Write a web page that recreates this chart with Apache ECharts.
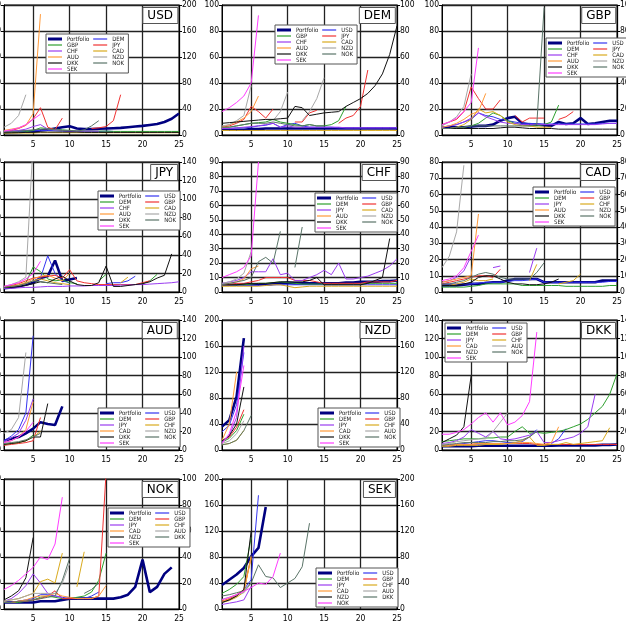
<!DOCTYPE html>
<html>
<head>
<meta charset="utf-8">
<title>Currency panels</title>
<script src="https://cdn.jsdelivr.net/npm/echarts@6/dist/echarts.min.js"></script>
<style>
html, body { margin: 0; padding: 0; background: #fff; }
#panels { width: 626px; height: 629px; }
</style>
</head>
<body>
<div id="panels"></div>
<script>
/* ------------------------------------------------------------------------------
 *
 *  # Small multiples - one panel per currency
 * ---------------------------------------------------------------------------- */

// Horizon categories (x axis)
var horizons = ['1','2','3','4','5','6','7','8','9','10','11','12','13',
    '14','15','16','17','18','19','20','21','22','23','24','25'];

// Panel titles and y axis ranges
var panelCodes = ['USD','DEM','GBP','JPY','CHF','CAD','AUD','NZD','DKK','NOK','SEK'];
var yMaxes = [200, 100, 100, 140, 90, 80, 140, 200, 140, 100, 200];
var ySteps = [40, 20, 20, 20, 10, 10, 20, 40, 20, 20, 40];

// Line colours (by position in each panel)
var lineColors = ['#000080', '#3535f0', '#2ea02e', '#f03232', '#9a3cf0', '#d9aa1e',
    '#ff9a3a', '#a8a8a8', '#111111', '#5a7468', '#ff3cff'];

// USD
var usdNames = ['Portfolio','DEM','GBP','JPY','CHF','CAD','AUD','NZD','DKK','NOK','SEK'];
var usdLines = [
    [4,4.5,5,5.5,6,7,8,10,12,13.5,10,9,9,9.5,10,10.5,11,12,13,14,15.5,17,20,25,33],
    [5,5,5.5,6,6.5,7,7,6.5,6,5.5,5,5,5,5.5,6,5.5],
    [3,3.5,4,5,7,11,10,9,8,7,6.5,6,6,6,6,5.5,5.5,5.5,5.5,5.5,5.5,5.5,5.5,5.5,5.5],
    [5,7,10,15,25,42,12,8,26,null,null,null,10,11,13,22,62],
    [5,6,7,9,13,16,9,8,7,6,6,6,6,6],
    [3,3,3,3,3,3.5,3.5,3.5,3.5,3.5,3.5,3.5,3.5,3.5,3.5,3.5,3.5,3.5,3.5,3.5,3.5,3.5,3.5,3.5,3.5],
    [7,9,11,15,33,186],
    [12,18,30,62],
    [3.5,3.5,3.5,4,4,4.5,4.5,4.5,4.5,4.5,4.5,4,4,4,4,4,4,4,4,4,4,4,4,4,4],
    [5,5,6,7,8,9,9,8,7,7,6,8,14,22],
    [6,8,11,16,24,32]
];

// DEM
var demNames = ['Portfolio','USD','GBP','JPY','CHF','CAD','AUD','NZD','DKK','NOK','SEK'];
var demLines = [
    [4,4,4,4,4.5,4.5,5,5,5,5,5,5,5,5,5,5,5,5,5,5,5,5,5,5,5],
    [5,5,5.5,5.5,6,7,7.5,9,6,8,9,7,6,6,6,6,5.5,5.5,5.5,5.5,5.5,5.5,5.5,5.5,5.5],
    [6,6,7,8,9,9.5,10,12,10,9,8,7,8,7,7,8,11,22],
    [6,7,9,12,22,18,13,20,null,null,10,10,17,19,null,null,9,13,15,22,50],
    [5,5,5.5,6,6.5,7,8,9,6,7,6,6,6,6,6,6,6,5.5,5.5,5.5,5.5,5.5,5.5,5.5,5.5],
    [3.5,3.5,3.5,3.5,3.5,3.5,3.5,3.5,3.5,3.5,3.5,3.5,3.5,3.5,3.5,3.5,3.5,3.5,3.5,3.5,3.5,3.5,3.5,3.5,3.5],
    [6,8,10,13,18,30],
    [7,8,11,15,38,null,null,11,18,33,null,11,18,28,44],
    [9,9.5,10,10.5,11,11.5,12,12,12.5,13,22,21,15,16,17,17.5,18,22,25,28,32,38,47,62,84],
    [6,6,7,8,9,9,9,10,9,8,7,7,8,7,7],
    [18,21,25,30,40,92]
];

// GBP
var gbpNames = ['Portfolio','USD','DEM','JPY','CHF','CAD','AUD','NZD','DKK','NOK','SEK'];
var gbpLines = [
    [6,6,6,6,6.5,7,7,8,11,13,14,9,8,8,7.5,7,10,8.5,9,13,8.5,9,10,11,11],
    [6,7,8,10,12,17,15,14,12,11,10,9,9,8.5,8.5,8.5,8.5,8.5,8.5,8.5,8.5,8.5,9,9,9],
    [5,5,5,6,7,9,13,17,15,11,9,8,7,7,8,10,23],
    [8,10,12,18,37,28,20,20,27,null,15,10,13,13,13,null,12,14,18],
    [6,7,8,10,13,17,14,12,10,9,9,8,8,8,8,8,8,8,8,8,8,8,8.5,9,9],
    [5,5,6,8,12,20,17,18,15,10,8,7,7,6,6,6],
    [6,7,9,12,16,18,32],
    [7,10,14,22,47],
    [5,5,5,5,5,5,5,5,5.5,6,6,5.5,5,5,5,5,4.5,4.5,4.5,4.5,4.5,4.5,4.5,4.5,4.5],
    [5,5,6,6,7,7,7,7,7,7,7,7,7,8,98],
    [8,10,13,18,25,67]
];

// JPY
var jpyNames = ['Portfolio','USD','DEM','GBP','CHF','CAD','AUD','NZD','DKK','NOK','SEK'];
var jpyLines = [
    [4,5,6,8,10,15,17,34,12,13.5,15],
    [5,6,7,9,12,15,39,20,12,10,null,null,null,null,9,10,10,12,17],
    [5,6,7,10,27,22,14,12,13,10,9,null,null,12,19,null,null,null,null,9,12,19],
    [6,7,9,12,15,16,17,18,15,24,12,10,9,8,8,8,8,8,8,10,12],
    [4,4,4.5,5,5,5.5,6,6,6,6.5,6.5,6.5,7,7,7,7,7.5,7.5,8,8,8.5,9,9.5,10,11],
    [5,6,7,9,12,14,12,10,9,8,null,null,null,null,null,null,10,16],
    [5,6,8,10,14,17,18,15,12,20],
    [6,8,11,16,162],
    [5,5,6,7,9,11,10,14,17,12,8,7,7,10,28,6,6,7,8,9,11,15,18,41],
    [5,6,7,9,12,11,10,9,8],
    [6,8,10,14,20,33]
];

// CHF
var chfNames = ['Portfolio','USD','DEM','GBP','JPY','CAD','AUD','NZD','DKK','NOK','SEK'];
var chfLines = [
    [5,5,5,5,5,5,5,5.5,6,6.5,6,6,6,6,6,6,6,6.5,6.5,7,7,7,7.5,7.5,8],
    [4.5,4.5,4.5,4.5,4.5,4.5,4.5,5,5,5,5,5,5,5,5,5,5,5,5,5,5,5,5,5,5],
    [5,5,5,5,5.5,6,6,6.5,7,6.5,6,5.5,5.5,5.5,5.5,5.5,5.5,5.5,5.5,5.5,6,6,6,6,6],
    [5,5,6,6,7,8,10,10,10,10,8,8,8,7,6,6,6,6,6,6,7,7,7,7,8],
    [6,7,8,10,14,14,14,23,12,13,8,8,10,12,15,12,20,9,9,10,11,13,15,18,23],
    [4,4,4,4,4,4,4.5,5,5,4,3,3.5,4,4,4,4,4,4,4,4,4,4,4,4,4],
    [5,6,7,9,16,18],
    [6,7,9,13,28],
    [5,5,5,5.5,6,6,6,6.5,7,7,7,7,8,10,5,5,5,5,5,5,6,8,10,37],
    [5,6,7,8,10,21,24,20,42,null,17,45],
    [10,12,14,17,25,90]
];

// CAD
var cadNames = ['Portfolio','USD','DEM','GBP','JPY','CHF','AUD','NZD','DKK','NOK','SEK'];
var cadLines = [
    [4,4,4,4.5,5,5,5.5,6,6,7,8,8,8,8,6,6,6,6,6,6,6,6,7,7,7],
    [5,5,5,5,5,5.5,6,6,6,6.5,7,7,7.5,8,6,6,6,6,6,6,6,6,6,6.5,6.5],
    [3,3,3,3,3.5,4,5,5,5,5,5,4,4,4,4,4,4,3.5,3.5,3.5,3.5,3.5,3.5,4,4],
    [5,6,7,8,9,10,10,9,14],
    [6,7,9,13,22,null,null,15,16,null,null,null,12,27],
    [4,4,5,6,8,7,7,8,null,null,null,null,7,17,null,null,5,6,7,11],
    [6,7,8,9,10,48],
    [15,22,37,78],
    [4,4,4,5,6,9,10,10,8,6,5,5,4.5,4.5,5,6,8],
    [5,5,6,7,9,11,12,11,9,8,8,8,8,12,18],
    [7,8,10,15,25,35]
];

// AUD
var audNames = ['Portfolio','USD','DEM','GBP','JPY','CHF','CAD','NZD','DKK','NOK','SEK'];
var audLines = [
    [10,12,14,18,23,30,28,27,47],
    [10,15,22,40,123],
    [6,7,8,10,16],
    [5,6,7,8,10,35],
    [9,13,18,32,55],
    [6,7,8,10,14,20],
    [8,10,14,22,52],
    [18,22,35,105],
    [6,7,8,10,14,14,50],
    [7,8,9,11,14,18],
    [8,10,14,20,30]
];

// NZD
var nzdNames = ['Portfolio','USD','DEM','GBP','JPY','CHF','CAD','AUD','DKK','NOK','SEK'];
var nzdLines = [
    [36,46,82,172],
    [28,38,70,150],
    [12,18,30,55],
    [14,20,35,62],
    [12,22,50,160],
    [8,10,15,30],
    [15,40,120],
    [10,14,25,45],
    [14,22,40,97],
    [8,10,15,30,53],
    [10,25,60,130]
];

// DKK
var dkkNames = ['Portfolio','USD','DEM','GBP','JPY','CHF','CAD','AUD','NZD','NOK','SEK'];
var dkkLines = [
    [4,4,4,4,4,4.5,4.5,4.5,4.5,4.5,4.5,4.5,4.5,4.5,4.5,4.5,5,5,5,5,5,5,5.5,5.5,6],
    [5,5,6,7,8,9,10,10,9,8,8,9,14,22,null,7,12,23],
    [9,10,11,12,12,12,13,13,14,14,20,25,18,19,18,19,20,22,25,28,33,40,47,60,82],
    [5,5,6,6,6,7,7,7,7,7,7,7,7,6,6,6,6,6,6,6,6,6,6,6,6],
    [7,8,10,14,22,18,14,20,12,11,12,14,16,20,8,8,10,12,14,18,25,60],
    [4,4,5,5,5,5,6,6,6,7,8,10,14,5,5,6,6,8,6,7,8,9,10,24],
    [5,5,6,6,6,7,7,7,7,7,7,8,8,7,6,8,25],
    [6,7,9,10,11,12,12,20,30,40],
    [8,12,16,25,80],
    [5,6,7,8,8,8,8,9,9,10,10,11,14,20],
    [17,17,19,22,28,35,40,30,40,27,30,37,52,127]
];

// NOK
var nokNames = ['Portfolio','USD','DEM','GBP','JPY','CHF','CAD','AUD','NZD','DKK','SEK'];
var nokLines = [
    [5,5,5,5,5,6,6,6,7,8,8,8,8,8,8,8,9,11,17,38,13,17,27,32],
    [5,5,6,7,8,11,11,10,9,8,8,8,10,13],
    [5,5,5,6,7,9,10,9,8,8,9,10,13,22,43],
    [5,5,6,6,7,8,10,14,8,8,8,8,8,10,105],
    [6,8,12,18,27,20,12,10,9],
    [6,7,8,10,12,21,23,20,43,null,17,44],
    [5,5,6,7,9,10,10,12,10,9,8,8,8,10,18],
    [6,7,8,10,12,12,12,12,20,35],
    [7,10,14,24,55],
    [5,5,6,6,7,8,9,10,22,39,null,12,15,20],
    [15,18,22,27,32,40,38,50,86]
];

// SEK
var sekNames = ['Portfolio','USD','DEM','GBP','JPY','CHF','CAD','AUD','NZD','DKK','NOK'];
var sekLines = [
    [37,45,53,63,81,94,157],
    [10,14,20,30,45,175],
    [24,30,38,50,110],
    [12,16,22,30,80],
    [7,9,11,14,35],
    [10,13,18,26,82],
    [12,15,20,28,78],
    [15,18,22,25,40],
    [10,14,20,30,120],
    [20,22,25,28,40,68,50,48,33,40,47,65,132],
    [14,18,22,27,33,40,38,50,86]
];

var panelNames = [usdNames, demNames, gbpNames, jpyNames, chfNames, cadNames,
    audNames, nzdNames, dkkNames, nokNames, sekNames];
var panelLines = [usdLines, demLines, gbpLines, jpyLines, chfLines, cadLines,
    audLines, nzdLines, dkkLines, nokLines, sekLines];

// Layout of the 4 x 3 grid
var colLeft = [4, 222, 442];
var rowTop = [5, 162, 320, 479];
var plotW = 175, plotH = 130;
var legendPos = [[46, 34], [275, 25], [546, 38], [98, 191], [315, 193], [533, 187],
    [98, 408], [318, 408], [445, 323], [108, 508], [316, 568]];

var labelFont = 'DejaVu Sans Condensed, DejaVu Sans, sans-serif';

function buildOption() {
    var grids = [], xAxes = [], yAxes = [], series = [], titles = [], legends = [];

    for (var p = 0; p < panelCodes.length; p++) {
        var code = panelCodes[p];
        var left = colLeft[p % 3];
        var top = rowTop[Math.floor(p / 3)];

        // outerBoundsMode none: keep the plot where it is, labels may leave the page
        grids.push({
            left: left, top: top, width: plotW, height: plotH,
            outerBoundsMode: 'none', containLabel: false,
            show: true, borderColor: '#000', borderWidth: 1, backgroundColor: '#fff'
        });

        xAxes.push({
            type: 'category', gridIndex: p, data: horizons, boundaryGap: false,
            axisLine: { lineStyle: { color: '#000' } },
            axisTick: { show: false },
            axisLabel: {
                interval: function (idx) { return (idx + 1) % 5 === 0; },
                color: '#000', fontSize: 8.5, fontFamily: labelFont, margin: 5
            },
            splitLine: {
                show: true,
                interval: function (idx) { return (idx + 1) % 5 === 0; },
                lineStyle: { color: '#222', width: 1.3 }
            }
        });

        // left and right y axes share the range
        ['left', 'right'].forEach(function (pos) {
            yAxes.push({
                type: 'value', gridIndex: p, position: pos,
                min: 0, max: yMaxes[p], interval: ySteps[p],
                axisLine: { show: true, lineStyle: { color: '#000' } },
                axisTick: { show: true, length: 3, lineStyle: { color: '#000' } },
                axisLabel: { color: '#000', fontSize: 8.5, fontFamily: labelFont, margin: 3 },
                splitLine: { show: pos === 'left', lineStyle: { color: '#222', width: 1.3 } }
            });
        });

        titles.push({
            text: code,
            right: 626 - (left + plotW) + 1,
            top: top + 2,
            padding: [3, 5, 2, 5],
            backgroundColor: '#fff',
            borderColor: '#555',
            borderWidth: 1,
            textStyle: { fontSize: 12, fontWeight: 'normal', color: '#000', fontFamily: 'DejaVu Sans' }
        });

        var names = panelNames[p];
        var lines = panelLines[p];
        for (var s = 0; s < names.length; s++) {
            series.push({
                name: code + ':' + names[s],
                type: 'line',
                xAxisIndex: p,
                yAxisIndex: p * 2,
                data: lines[s],
                symbol: 'none',
                connectNulls: false,
                clip: true,
                lineStyle: { color: lineColors[s], width: s === 0 ? 2.6 : 1 },
                itemStyle: { color: lineColors[s] },
                emphasis: { disabled: true }
            });
        }

        // legend laid out in two columns, row-major like the original
        var order = [0, 2, 4, 6, 8, 10, 1, 3, 5, 7, 9];
        var legendData = order.map(function (k) {
            return {
                name: code + ':' + names[k],
                icon: k === 0 ? 'path://M0,0H14V3H0Z' : 'path://M0,0H14V1.2H0Z'
            };
        });
        legends.push({
            orient: 'vertical',
            left: legendPos[p][0],
            top: legendPos[p][1],
            height: 38,
            padding: [2, 0, 1, 2],
            itemGap: 0,
            itemWidth: 14,
            itemHeight: 4,
            selectedMode: false,
            backgroundColor: '#fff',
            borderColor: '#555',
            borderWidth: 1,
            data: legendData,
            formatter: function (name) { return name.split(':')[1]; },
            textStyle: {
                fontSize: 6, lineHeight: 6, color: '#222',
                fontFamily: labelFont, padding: [0, 4, 0, 0]
            }
        });
    }

    return {
        animation: false,
        backgroundColor: '#fff',
        title: titles,
        legend: legends,
        grid: grids,
        xAxis: xAxes,
        yAxis: yAxes,
        series: series
    };
}

var panelsElement = document.getElementById('panels');
var panelsChart = echarts.init(panelsElement, null, { renderer: 'canvas' });
panelsChart.setOption(buildOption());
</script>
</body>
</html>
